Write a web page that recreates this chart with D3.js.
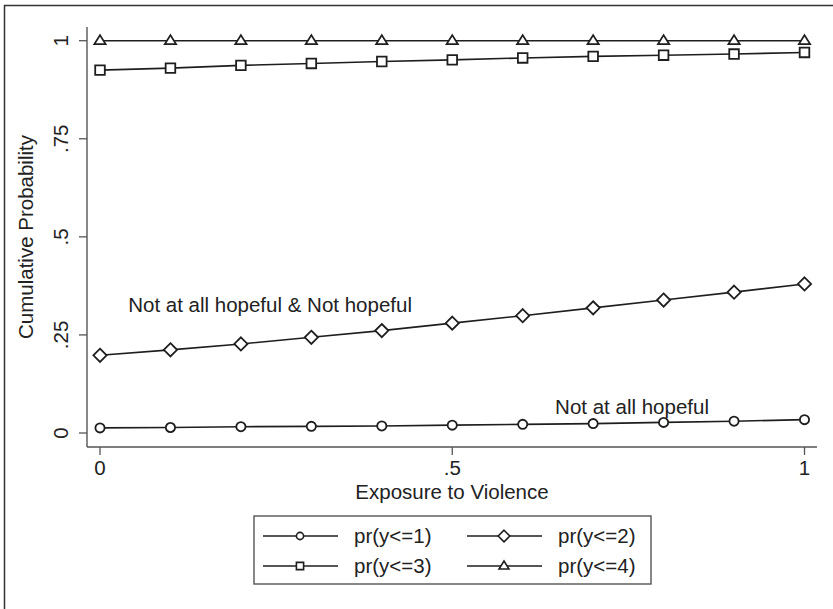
<!DOCTYPE html>
<html>
<head>
<meta charset="utf-8">
<script src="https://cdn.jsdelivr.net/npm/d3@7"></script>
<style>
  body { margin: 0; background: #fff; }
  svg { display: block; font-family: "Liberation Sans", Arial, sans-serif; }
  text { fill: #222; }
</style>
</head>
<body>
<div id="container"></div>
<script>
// exposure values on the x axis
const exposure = [0, 0.1, 0.2, 0.3, 0.4, 0.5, 0.6, 0.7, 0.8, 0.9, 1];

// cumulative probabilities
const pr1 = [0.013, 0.014, 0.016, 0.017, 0.018, 0.020, 0.022, 0.024, 0.027, 0.030, 0.034];
const pr2 = [0.198, 0.212, 0.227, 0.244, 0.261, 0.280, 0.299, 0.319, 0.339, 0.359, 0.380];
const pr3 = [0.925, 0.930, 0.937, 0.942, 0.947, 0.951, 0.956, 0.960, 0.963, 0.966, 0.970];
const pr4 = [1, 1, 1, 1, 1, 1, 1, 1, 1, 1, 1];

const seriesNames = ['pr(y<=1)', 'pr(y<=2)', 'pr(y<=3)', 'pr(y<=4)'];
const seriesShapes = ['circle', 'diamond', 'square', 'triangle'];
const seriesValues = [pr1, pr2, pr3, pr4];

const xTicks = [0, 0.5, 1];
const xTickLabels = ['0', '.5', '1'];
const yTicks = [0, 0.25, 0.5, 0.75, 1];
const yTickLabels = ['0', '.25', '.5', '.75', '1'];

const notes = [
  { text: 'Not at all hopeful & Not hopeful', x: 0.04, y: 0.308 },
  { text: 'Not at all hopeful', x: 0.646, y: 0.048 }
];

const W = 833, H = 609;
const fontSize = 20.5;
const ink = '#1e1e1e';
const axisColour = '#555';

// plot region (axis lines) and the data range inside it
const plot = { left: 87, right: 817, top: 27, bottom: 447 };
const x = d3.scaleLinear().domain([0, 1]).range([100, 804.5]);
const y = d3.scaleLinear().domain([0, 1]).range([433, 40.7]);

const svg = d3.select('#container').append('svg')
  .attr('width', W)
  .attr('height', H);

// outer graph border (cut off on the right and bottom in the original)
svg.append('rect')
  .attr('x', 4.5).attr('y', 5.5)
  .attr('width', W).attr('height', H)
  .attr('fill', 'none')
  .attr('stroke', '#333')
  .attr('stroke-width', 1.5);

function markerPath(shape, s) {
  // s = half size
  if (shape === 'circle') {
    return `M${s},0A${s},${s} 0 1,1 ${-s},0A${s},${s} 0 1,1 ${s},0Z`;
  }
  if (shape === 'square') {
    return `M${-s},${-s}H${s}V${s}H${-s}Z`;
  }
  if (shape === 'diamond') {
    return `M0,${-s}L${s},0L0,${s}L${-s},0Z`;
  }
  // triangle, base just under the line
  const h = s * 1.6;
  return `M0,${-h * 0.62}L${s},${h * 0.38}L${-s},${h * 0.38}Z`;
}
const markerSize = { circle: 4.6, square: 4.8, diamond: 6.6, triangle: 5.6 };
const legendMarkerSize = { circle: 3.6, square: 3.6, diamond: 5.8, triangle: 5 };

// y axis
svg.append('line')
  .attr('x1', plot.left).attr('x2', plot.left)
  .attr('y1', plot.top).attr('y2', plot.bottom)
  .attr('stroke', axisColour).attr('stroke-width', 1.4);

const yAxis = svg.append('g');
yAxis.selectAll('line.tick')
  .data(yTicks).enter()
  .append('line')
  .attr('class', 'tick')
  .attr('x1', plot.left - 8).attr('x2', plot.left)
  .attr('y1', (d) => y(d)).attr('y2', (d) => y(d))
  .attr('stroke', axisColour).attr('stroke-width', 1.3);
yAxis.selectAll('text')
  .data(yTicks).enter()
  .append('text')
  .attr('transform', (d) => `translate(68, ${y(d)}) rotate(-90)`)
  .attr('text-anchor', 'middle')
  .style('font-size', fontSize + 'px')
  .text((d, i) => yTickLabels[i]);

svg.append('text')
  .attr('transform', `translate(33, ${(plot.top + plot.bottom) / 2}) rotate(-90)`)
  .attr('text-anchor', 'middle')
  .style('font-size', fontSize + 'px')
  .text('Cumulative Probability');

// x axis
svg.append('line')
  .attr('x1', plot.left).attr('x2', plot.right)
  .attr('y1', plot.bottom).attr('y2', plot.bottom)
  .attr('stroke', axisColour).attr('stroke-width', 1.4);

const xAxis = svg.append('g');
xAxis.selectAll('line.tick')
  .data(xTicks).enter()
  .append('line')
  .attr('class', 'tick')
  .attr('x1', (d) => x(d)).attr('x2', (d) => x(d))
  .attr('y1', plot.bottom).attr('y2', plot.bottom + 8)
  .attr('stroke', axisColour).attr('stroke-width', 1.3);
xAxis.selectAll('text')
  .data(xTicks).enter()
  .append('text')
  .attr('x', (d) => x(d))
  .attr('y', 475)
  .attr('text-anchor', 'middle')
  .style('font-size', fontSize + 'px')
  .text((d, i) => xTickLabels[i]);

svg.append('text')
  .attr('x', (plot.left + plot.right) / 2)
  .attr('y', 499)
  .attr('text-anchor', 'middle')
  .style('font-size', fontSize + 'px')
  .text('Exposure to Violence');

// series
const line = d3.line()
  .x((d, i) => x(exposure[i]))
  .y((d) => y(d));

seriesValues.forEach((values, k) => {
  const g = svg.append('g');
  g.append('path')
    .datum(values)
    .attr('d', line)
    .attr('fill', 'none')
    .attr('stroke', ink)
    .attr('stroke-width', 1.6);
  g.selectAll('path.marker')
    .data(values).enter()
    .append('path')
    .attr('class', 'marker')
    .attr('transform', (d, i) => `translate(${x(exposure[i])}, ${y(d)})`)
    .attr('d', markerPath(seriesShapes[k], markerSize[seriesShapes[k]]))
    .attr('fill', '#fff')
    .attr('stroke', ink)
    .attr('stroke-width', 1.8);
});

// text annotations
svg.append('g').selectAll('text')
  .data(notes).enter()
  .append('text')
  .attr('x', (d) => x(d.x))
  .attr('y', (d) => y(d.y))
  .style('font-size', fontSize + 'px')
  .text((d) => d.text);

// legend
const legend = svg.append('g');
legend.append('rect')
  .attr('x', 254).attr('y', 516)
  .attr('width', 397).attr('height', 68)
  .attr('fill', '#fff')
  .attr('stroke', axisColour)
  .attr('stroke-width', 1.4);

const legendCols = [263, 467];
const legendRows = [536, 566];
seriesNames.forEach((name, k) => {
  const lx = legendCols[k % 2];
  const ly = legendRows[Math.floor(k / 2)];
  const item = legend.append('g').attr('transform', `translate(${lx}, ${ly})`);
  item.append('line')
    .attr('x1', 0).attr('x2', 75)
    .attr('y1', 0).attr('y2', 0)
    .attr('stroke', ink).attr('stroke-width', 1.6);
  item.append('path')
    .attr('transform', 'translate(37, 0)')
    .attr('d', markerPath(seriesShapes[k], legendMarkerSize[seriesShapes[k]]))
    .attr('fill', '#fff')
    .attr('stroke', ink)
    .attr('stroke-width', 1.6);
  item.append('text')
    .attr('x', 91)
    .attr('y', 7)
    .style('font-size', fontSize + 'px')
    .text(name);
});
</script>
</body>
</html>
